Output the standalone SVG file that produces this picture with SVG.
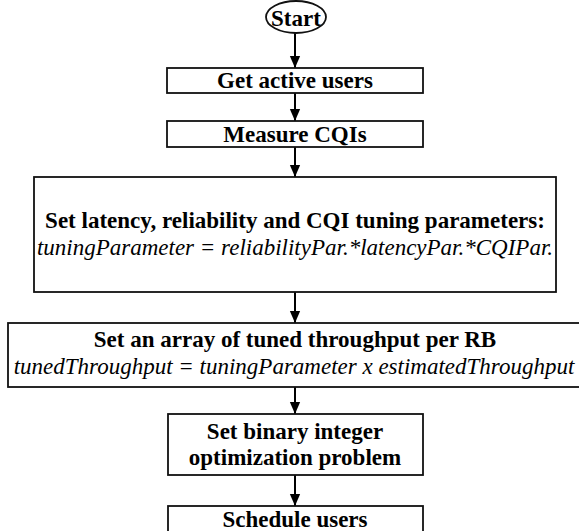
<svg xmlns="http://www.w3.org/2000/svg" width="579" height="531" viewBox="0 0 579 531">
<defs>
<marker id="ah" markerUnits="userSpaceOnUse" markerWidth="12" markerHeight="15" refX="14" refY="6" orient="auto" viewBox="0 0 14 12">
<path d="M0,0 L14,6 L0,12 Z" fill="#000"/>
</marker>
<style>
.box{fill:#fff;stroke:#111;stroke-width:1.8}
.c{stroke:#000;stroke-width:2;fill:none;marker-end:url(#ah)}
</style>
</defs>
<rect width="579" height="531" fill="#fff"/>
<g id="connectors">
<line class="c" x1="295" y1="33" x2="295" y2="68"/>
<line class="c" x1="295" y1="93" x2="295" y2="121"/>
<line class="c" x1="295" y1="147" x2="295" y2="177"/>
<line class="c" x1="295" y1="292" x2="295" y2="323"/>
<line class="c" x1="295" y1="387" x2="295" y2="414"/>
<line class="c" x1="295" y1="475" x2="295" y2="506"/>
</g>
<g font-family="Liberation Serif, Tinos, Times New Roman, Nimbus Roman, FreeSerif, Noto Serif, DejaVu Serif, serif" font-size="23" text-anchor="middle" fill="#000">
<g id="start">
<ellipse class="box" cx="296" cy="17" rx="30" ry="16"/>
<text font-weight="bold" x="296" y="26">Start</text>
</g>
<g id="get-active-users">
<rect class="box" x="167" y="68" width="256" height="25"/>
<text font-weight="bold" x="295" y="88">Get active users</text>
</g>
<g id="measure-cqis">
<rect class="box" x="167" y="121" width="256" height="26"/>
<text font-weight="bold" x="295" y="141.5">Measure CQIs</text>
</g>
<g id="set-tuning">
<rect class="box" x="34" y="177" width="522" height="115"/>
<text font-weight="bold" x="295" y="228">Set latency, reliability and CQI tuning parameters:</text>
<text font-style="italic" x="295" y="255">tuningParameter = reliabilityPar.*latencyPar.*CQIPar.</text>
</g>
<g id="tuned-throughput">
<rect class="box" x="8" y="323" width="580" height="64"/>
<text font-weight="bold" x="295" y="347">Set an array of tuned throughput per RB</text>
<text font-style="italic" x="294" y="374">tunedThroughput = tuningParameter x estimatedThroughput</text>
</g>
<g id="binary-problem">
<rect class="box" x="168" y="414" width="255" height="61"/>
<text font-weight="bold" x="295" y="439">Set binary integer</text>
<text font-weight="bold" x="295" y="465">optimization problem</text>
</g>
<g id="schedule-users">
<rect class="box" x="168" y="506" width="255" height="40"/>
<text font-weight="bold" x="295" y="527">Schedule users</text>
</g>
</g>
</svg>
